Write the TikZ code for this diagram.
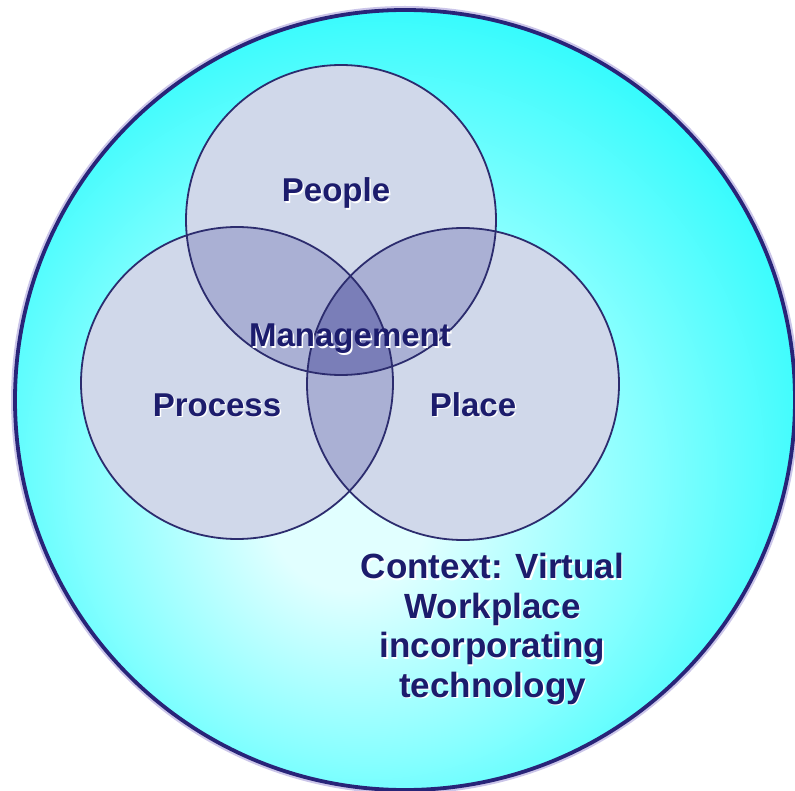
\documentclass[tikz,border=0pt]{standalone}
\usepackage{fontspec}
\newfontfamily\labfont{Liberation Sans}
\definecolor{navy}{RGB}{28,28,108}
\definecolor{ringc}{RGB}{40,36,120}
\definecolor{haloc}{RGB}{160,150,215}
\definecolor{singlec}{RGB}{208,216,234}
\definecolor{pairc}{RGB}{170,176,212}
\definecolor{triplec}{RGB}{122,126,184}
\definecolor{vline}{RGB}{44,44,110}
\definecolor{cA}{RGB}{225,255,255}
\definecolor{cB}{RGB}{135,255,255}
\definecolor{cD}{RGB}{30,250,252}
\definecolor{cC}{RGB}{0,245,250}
\pgfdeclareradialshading{bgshade}{\pgfpoint{-4bp}{-8bp}}{color(0bp)=(cA); color(5bp)=(cA); color(18bp)=(cB); color(32bp)=(cD); color(50bp)=(cC)}
\tikzset{
  venn/.style={draw=vline, line width=1.8pt},
  lab/.style={font=\labfont\bfseries\fontsize{33}{40}\selectfont, text=navy, anchor=base, inner sep=0pt},
  labshadow/.style={lab, text=white},
  ctx/.style={font=\labfont\bfseries\fontsize{35}{39.5}\selectfont, text=navy, align=center, anchor=base, inner sep=0pt},
  ctxshadow/.style={ctx, text=white}
}
\begin{document}
\begin{tikzpicture}[x=1pt,y=-1pt]
\useasboundingbox (0,0) rectangle (795,791);
% outer context circle
\coordinate (oc) at (405,400);
\path[draw=haloc, line width=8pt, opacity=0.55] (oc) circle[radius=390];
\path[shading=bgshade] (oc) circle[radius=390];
\draw[ringc, line width=3.8pt] (oc) circle[radius=390];
% venn circles
\coordinate (cPeople) at (341,220);
\coordinate (cProcess) at (237,383);
\coordinate (cPlace) at (463,384);
\fill[singlec] (cPeople) circle[radius=155];
\fill[singlec] (cProcess) circle[radius=156];
\fill[singlec] (cPlace) circle[radius=156];
\begin{scope}
  \clip (cPeople) circle[radius=155];
  \fill[pairc] (cProcess) circle[radius=156];
  \fill[pairc] (cPlace) circle[radius=156];
\end{scope}
\begin{scope}
  \clip (cProcess) circle[radius=156];
  \fill[pairc] (cPlace) circle[radius=156];
  \clip (cPlace) circle[radius=156];
  \fill[triplec] (cPeople) circle[radius=155];
\end{scope}
\draw[venn] (cPeople) circle[radius=155];
\draw[venn] (cProcess) circle[radius=156];
\draw[venn] (cPlace) circle[radius=156];
% labels
\node[labshadow] (peopleS) at (337.5,203.5) {People};
\node[lab] (people) at (336,202) {People};
\node[labshadow] (mgmtS) at (351.5,348.5) {Management};
\node[lab] (mgmt) at (350,347) {Management};
\node[labshadow] (processS) at (218.5,417.5) {Process};
\node[lab] (process) at (217,416) {Process};
\node[labshadow] (placeS) at (474.5,417.5) {Place};
\node[lab] (place) at (473,416) {Place};
\node[ctxshadow] (ctxS) at (494,698.5) {Context: Virtual\\Workplace\\incorporating\\technology};
\node[ctx] (ctx) at (492.5,697) {Context: Virtual\\Workplace\\incorporating\\technology};
\end{tikzpicture}
\end{document}
